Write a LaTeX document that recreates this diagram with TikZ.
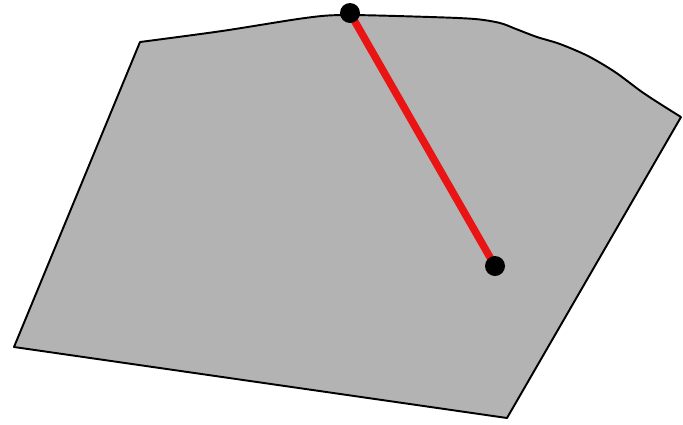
\documentclass[tikz,border=0pt]{standalone}
\usepackage{tikz}
\usetikzlibrary{backgrounds}
\definecolor{plate}{RGB}{179,179,179}
\definecolor{chord}{RGB}{235,20,20}
\begin{document}
\begin{tikzpicture}[x=0.02cm, y=-0.02cm,
      rg/.style={draw=black, fill=plate, line width=1.1pt, line join=round},
      pt/.style={circle, fill=black, inner sep=0pt, minimum size=0.4cm},
      ln/.style={draw=chord, line width=0.15cm}]
      \useasboundingbox (0,0) rectangle (683,424);
      \node[pt] (p) at (350,13)  {};
      \node[pt] (q) at (495,266) {};
      \begin{pgfonlayer}{background}
      \path[rg] (14,347) -- (140,42) -- plot[smooth, tension=0.5] coordinates
        {(140,42) (222,31) (305,18) (345,15) (430,17) (475,19) (500,23) (516,29)
         (537,37) (560,44) (588,56) (615,72) (642,92) (665,107) (681,117)}
        -- (507,418) -- cycle;
      \draw[ln, shorten <=-0.16cm] (p.center) -- (q.center);
      \end{pgfonlayer}
    \end{tikzpicture}
\end{document}
